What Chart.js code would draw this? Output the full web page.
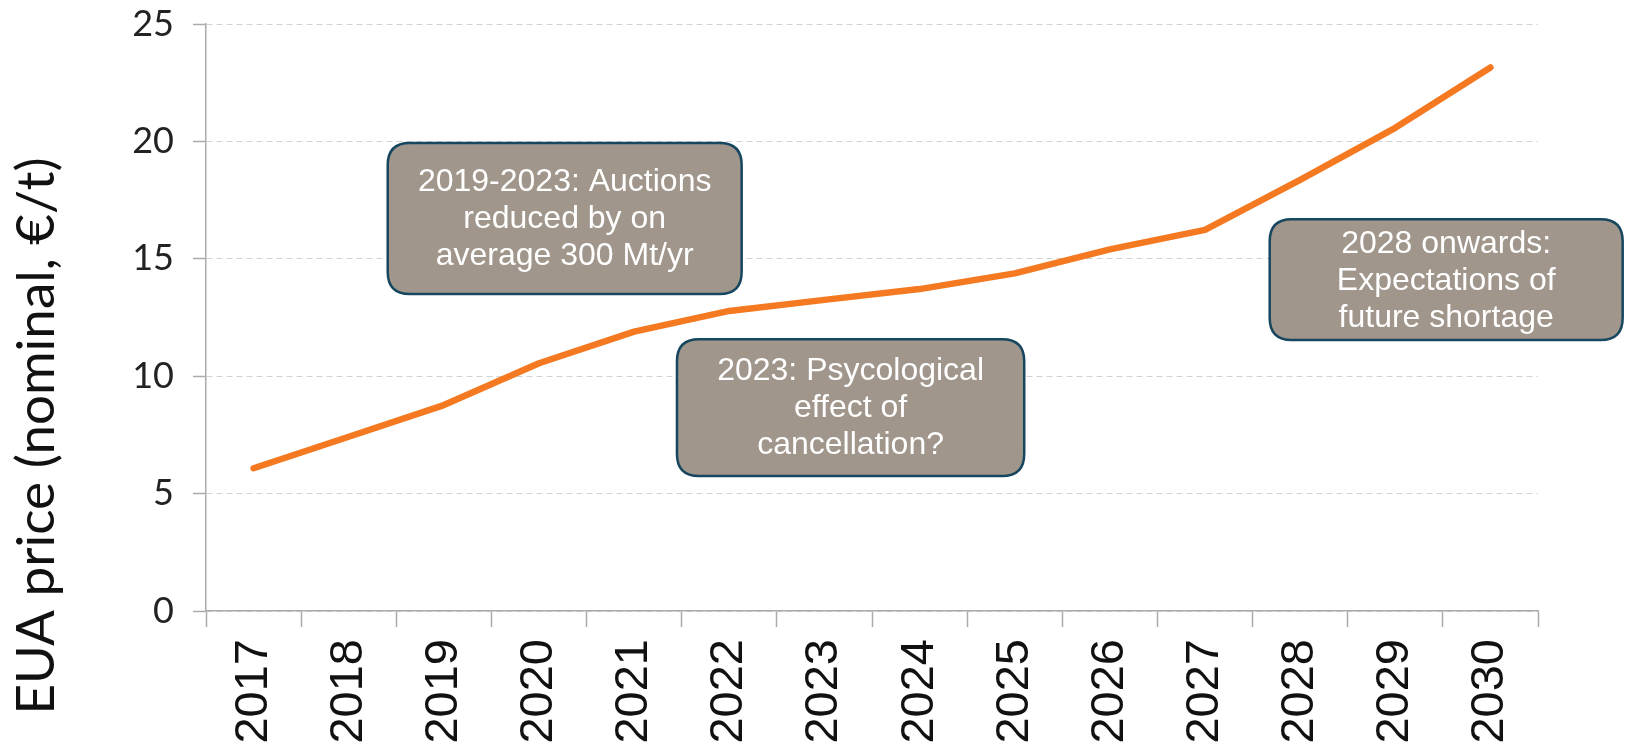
<!DOCTYPE html>
<html>
<head>
<meta charset="utf-8">
<script src="https://cdn.jsdelivr.net/npm/chart.js@4"></script>
<style>
  html, body { margin: 0; padding: 0; background: #fff; }
  #wrap { width: 1628px; height: 750px; }
</style>
</head>
<body>
<div id="wrap"><canvas id="euaChart" width="1628" height="750"></canvas></div>
<script>
// data
const years = ['2017', '2018', '2019', '2020', '2021', '2022', '2023', '2024', '2025', '2026', '2027', '2028', '2029', '2030'];
const euaPrice = [6.08, 7.42, 8.77, 10.55, 11.9, 12.78, 13.25, 13.71, 14.38, 15.4, 16.23, 18.36, 20.58, 23.15];
const yTicks = [0, 5, 10, 15, 20, 25];
const yTitle = 'EUA price (nominal, €/t)';

// annotation boxes: x in category index, y in €/t
const noteText = [
    ['2019-2023: Auctions', 'reduced by on', 'average 300 Mt/yr'],
    ['2023: Psycological', 'effect of', 'cancellation?'],
    ['2028 onwards:', 'Expectations of', 'future shortage']
];
const noteX = [[1.41, 5.13], [4.45, 8.10], [10.68, 14.39]];
const noteY = [[19.93, 13.5], [11.57, 5.75], [16.68, 11.54]];

const axisGrey = '#ababab';

const roundRect = (ctx, x, y, w, h, r) => {
    ctx.beginPath();
    ctx.moveTo(x + r, y);
    ctx.lineTo(x + w - r, y);
    ctx.quadraticCurveTo(x + w, y, x + w, y + r);
    ctx.lineTo(x + w, y + h - r);
    ctx.quadraticCurveTo(x + w, y + h, x + w - r, y + h);
    ctx.lineTo(x + r, y + h);
    ctx.quadraticCurveTo(x, y + h, x, y + h - r);
    ctx.lineTo(x, y + r);
    ctx.quadraticCurveTo(x, y, x + r, y);
    ctx.closePath();
};

const notesPlugin = {
    id: 'notes',
    afterDatasetsDraw(chart) {
        const ctx = chart.ctx;
        const xs = chart.scales.x, ys = chart.scales.y;
        noteText.forEach((lines, i) => {
            const x0 = xs.getPixelForValue(noteX[i][0]);
            const x1 = xs.getPixelForValue(noteX[i][1]);
            const y0 = ys.getPixelForValue(noteY[i][0]);
            const y1 = ys.getPixelForValue(noteY[i][1]);
            ctx.save();
            roundRect(ctx, x0, y0, x1 - x0, y1 - y0, 22);
            ctx.fillStyle = '#a0968b';
            ctx.fill();
            ctx.lineWidth = 2.5;
            ctx.strokeStyle = '#17465f';
            ctx.stroke();
            ctx.fillStyle = '#ffffff';
            ctx.font = '32px "Liberation Sans", Arial, sans-serif';
            ctx.textAlign = 'center';
            ctx.textBaseline = 'middle';
            const cx = (x0 + x1) / 2, cy = (y0 + y1) / 2 + 1;
            const lh = 37;
            lines.forEach((t, k) => {
                ctx.fillText(t, cx, cy + (k - (lines.length - 1) / 2) * lh);
            });
            ctx.restore();
        });
    }
};

const yTitlePlugin = {
    id: 'yTitle',
    afterDraw(chart) {
        const ctx = chart.ctx;
        ctx.save();
        ctx.translate(37, 436);
        ctx.rotate(-Math.PI / 2);
        ctx.font = '53px Lato, "Open Sans", sans-serif';
        ctx.fillStyle = '#111';
        ctx.textAlign = 'center';
        ctx.textBaseline = 'middle';
        ctx.fillText(yTitle, 0, 0);
        ctx.restore();
    }
};

new Chart(document.getElementById('euaChart'), {
    type: 'line',
    data: {
        labels: years,
        datasets: [{
            data: euaPrice,
            borderColor: '#f47920',
            borderWidth: 6.5,
            borderCapStyle: 'round',
            borderJoinStyle: 'round',
            tension: 0,
            fill: false,
            pointRadius: 0
        }]
    },
    options: {
        responsive: false,
        animation: false,
        layout: { padding: { left: 0, right: 90, top: 24, bottom: 0 } },
        plugins: {
            legend: { display: false },
            tooltip: { enabled: false }
        },
        scales: {
            x: {
                offset: true,
                afterFit: (scale) => { scale.height = 139; },
                grid: {
                    offset: true,
                    drawOnChartArea: false,
                    tickLength: 16,
                    tickColor: axisGrey,
                    tickWidth: 1.5
                },
                border: { color: axisGrey, width: 1.5 },
                ticks: {
                    autoSkip: false,
                    maxRotation: 90,
                    minRotation: 90,
                    padding: 12,
                    color: '#111',
                    font: { family: '"Liberation Sans Narrow", "Arial Narrow", "Liberation Sans", Arial, sans-serif', size: 47 }
                }
            },
            y: {
                min: 0,
                max: 25,
                afterFit: (scale) => {
                    scale.width = 206;
                    scale.paddingTop = 0;
                    scale.paddingBottom = 0;
                },
                afterBuildTicks: (scale) => { scale.ticks = yTicks.map(v => ({ value: v })); },
                grid: {
                    color: '#d2d2d2',
                    lineWidth: 1,
                    tickLength: 13,
                    tickColor: axisGrey,
                    tickWidth: 1.5,
                    tickBorderDash: []
                },
                border: { color: axisGrey, width: 1.5, dash: [6, 4] },
                ticks: {
                    padding: 19,
                    color: '#222',
                    font: { family: 'Lato, "Open Sans", sans-serif', size: 36 }
                }
            }
        }
    },
    plugins: [notesPlugin, yTitlePlugin]
});
</script>
</body>
</html>
